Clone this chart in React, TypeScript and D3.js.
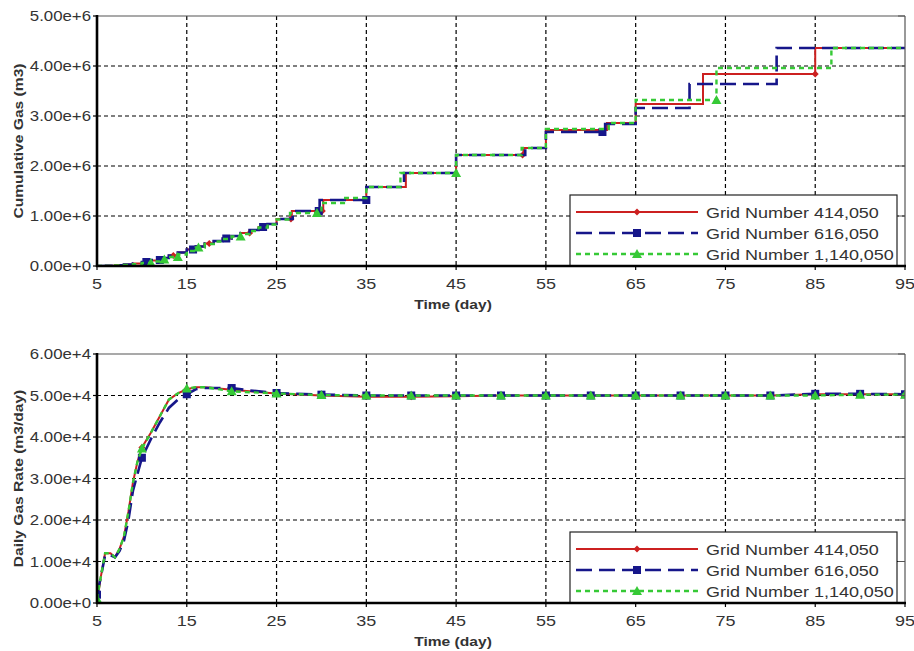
import React, { useEffect, useRef } from 'react';
import * as d3 from 'd3';

// legend labels, one per grid
const seriesNames = ['Grid Number 414,050', 'Grid Number 616,050', 'Grid Number 1,140,050'];
const xTicks = [5, 15, 25, 35, 45, 55, 65, 75, 85, 95];
const cumTicks = [0, 1e6, 2e6, 3e6, 4e6, 5e6];
const rateTicks = [0, 1e4, 2e4, 3e4, 4e4, 5e4, 6e4];

// cumulative gas, [day, m3], drawn as steps
const cum414 = [
  [5, 0], [6, 0.005e6], [7, 0.015e6], [8, 0.03e6], [9, 0.05e6], [10, 0.08e6], [11, 0.11e6],
  [12, 0.16e6], [13, 0.21e6], [14, 0.27e6], [15, 0.33e6], [16, 0.39e6], [17, 0.45e6],
  [18, 0.5e6], [19, 0.55e6], [20, 0.6e6], [21, 0.66e6], [22, 0.72e6], [23, 0.78e6],
  [24, 0.84e6], [25, 0.94e6], [26.7, 1.1e6], [30.2, 1.32e6], [35, 1.58e6], [39.4, 1.86e6],
  [45, 2.22e6], [52.5, 2.36e6], [55, 2.72e6], [61.8, 2.86e6], [65, 3.24e6], [72.5, 3.84e6],
  [85, 4.36e6], [95, 4.36e6],
];
const cum616 = [
  [5, 0], [6, 0.005e6], [7, 0.015e6], [8, 0.03e6], [9, 0.05e6], [10, 0.08e6], [11, 0.12e6],
  [12, 0.16e6], [13, 0.21e6], [14, 0.27e6], [15, 0.33e6], [16, 0.39e6], [17, 0.45e6],
  [18, 0.5e6], [19, 0.55e6], [20, 0.6e6], [21, 0.66e6], [22, 0.72e6], [23, 0.78e6],
  [24, 0.84e6], [25, 0.94e6], [26.8, 1.1e6], [29.8, 1.32e6], [35, 1.58e6], [39.2, 1.86e6],
  [45, 2.22e6], [52.7, 2.36e6], [55, 2.68e6], [61.6, 2.84e6], [65, 3.16e6], [71, 3.64e6],
  [80.7, 4.36e6], [95, 4.36e6],
];
const cum1140 = [
  [5, 0], [6, 0.003e6], [7, 0.01e6], [8, 0.02e6], [9, 0.035e6], [10, 0.06e6], [11, 0.09e6],
  [12, 0.13e6], [13, 0.18e6], [14, 0.23e6], [15, 0.3e6], [16, 0.37e6], [17, 0.44e6],
  [18, 0.49e6], [19, 0.54e6], [20, 0.59e6], [21, 0.64e6], [22, 0.7e6], [23, 0.77e6],
  [24, 0.83e6], [25, 0.93e6], [26.5, 1.06e6], [30, 1.26e6], [32.5, 1.36e6], [35, 1.58e6],
  [38.8, 1.86e6], [45, 2.22e6], [52.3, 2.36e6], [55, 2.74e6], [62, 2.86e6], [65, 3.32e6],
  [74, 3.96e6], [86.8, 4.36e6], [95, 4.36e6],
];
// days where the cumulative markers sit
const cumMarks414 = [13.5, 17.5, 22, 26.6, 30.1, 52.4, 85];
const cumMarks616 = [10.5, 12, 15.7, 19.4, 23.5, 29.7, 35, 61.3];
const cumMarks1140 = [11, 12.5, 14, 16.3, 21, 29.5, 45, 74];

// daily gas rate, [day, m3/day]
const rate414 = [
  [5, 0], [5.4, 0.6e4], [5.9, 1.2e4], [6.5, 1.2e4], [7, 1.1e4], [7.5, 1.3e4], [8, 1.6e4],
  [8.5, 2.2e4], [9, 2.9e4], [9.5, 3.4e4], [10, 3.75e4], [11, 4.1e4], [12, 4.5e4], [13, 4.9e4],
  [14, 5.05e4], [15, 5.15e4], [16, 5.2e4], [17, 5.2e4], [18, 5.18e4], [20, 5.14e4],
  [22, 5.1e4], [25, 5.05e4], [30, 5.0e4], [35, 4.97e4], [40, 4.97e4], [45, 4.98e4],
  [50, 5.0e4], [55, 5.0e4], [60, 5.0e4], [65, 5.0e4], [70, 5.0e4], [75, 5.0e4], [80, 5.0e4],
  [85, 5.03e4], [90, 5.03e4], [95, 5.03e4],
];
const rate616 = [
  [5, 0.2e4], [5.4, 0.6e4], [5.9, 1.15e4], [6.5, 1.15e4], [7, 1.1e4], [7.5, 1.25e4],
  [8, 1.5e4], [8.5, 2.0e4], [9, 2.7e4], [9.5, 3.1e4], [10, 3.5e4], [11, 3.95e4], [12, 4.35e4],
  [13, 4.7e4], [14, 4.9e4], [15, 5.03e4], [16, 5.15e4], [17, 5.18e4], [18, 5.18e4],
  [20, 5.18e4], [22, 5.12e4], [25, 5.06e4], [30, 5.02e4], [35, 5.0e4], [40, 5.0e4],
  [45, 5.0e4], [50, 5.0e4], [55, 5.0e4], [60, 5.0e4], [65, 5.0e4], [70, 5.0e4], [75, 5.0e4],
  [80, 5.0e4], [85, 5.04e4], [90, 5.04e4], [95, 5.03e4],
];
const rate1140 = [
  [5, 0.1e4], [5.4, 0.6e4], [5.9, 1.2e4], [6.5, 1.2e4], [7, 1.1e4], [7.5, 1.3e4], [8, 1.6e4],
  [8.5, 2.2e4], [9, 2.9e4], [9.5, 3.4e4], [10, 3.72e4], [11, 4.1e4], [12, 4.5e4], [13, 4.9e4],
  [14, 5.05e4], [15, 5.17e4], [16, 5.2e4], [17, 5.2e4], [18, 5.17e4], [20, 5.1e4],
  [22, 5.08e4], [25, 5.05e4], [30, 5.01e4], [35, 5.0e4], [40, 5.0e4], [45, 5.0e4],
  [50, 5.0e4], [55, 5.0e4], [60, 5.0e4], [65, 5.0e4], [70, 5.0e4], [75, 5.0e4], [80, 5.0e4],
  [85, 5.0e4], [90, 5.02e4], [95, 5.02e4],
];
const rateMarkDays = [5, 10, 15, 20, 25, 30, 35, 40, 45, 50, 55, 60, 65, 70, 75, 80, 85, 90, 95];

const styles = [
  { color: '#cc2020', dash: null, width: 2, marker: 'diamond' },
  { color: '#16168a', dash: '16,7', width: 2.6, marker: 'square' },
  { color: '#36c936', dash: '5,4', width: 2.4, marker: 'triangle' },
];

const FONT = 'Liberation Sans, Arial, sans-serif';
const STRETCH = 1.2;

// value held by a step series just before the given day
const stepBefore = (pts, day) => {
  let v = pts[0][1];
  for (const p of pts) if (p[0] < day) v = p[1];
  return v;
};
const lerpAt = (pts, day) => {
  for (let i = 1; i < pts.length; i++) {
    if (day <= pts[i][0]) {
      const [x0, y0] = pts[i - 1];
      const [x1, y1] = pts[i];
      return y0 + (y1 - y0) * (day - x0) / (x1 - x0);
    }
  }
  return pts[pts.length - 1][1];
};

const text = (g, x, y, str, opts: any = {}) => {
  const rot = opts.rotate ? ` rotate(${opts.rotate})` : '';
  return g.append('text')
    .attr('transform', `translate(${x},${y})${rot} scale(${STRETCH},1)`)
    .attr('text-anchor', opts.anchor || 'middle')
    .attr('font-family', FONT)
    .attr('font-size', opts.size || 14)
    .attr('font-weight', opts.bold ? 'bold' : 'normal')
    .attr('fill', opts.fill || '#333')
    .text(str);
};

const drawMarker = (g, kind, cx, cy, color) => {
  if (kind === 'diamond') {
    g.append('path').attr('d', `M${cx},${cy - 3.5}L${cx + 3.5},${cy}L${cx},${cy + 3.5}L${cx - 3.5},${cy}Z`)
      .attr('fill', color);
  } else if (kind === 'square') {
    g.append('rect').attr('x', cx - 4).attr('y', cy - 4).attr('width', 8).attr('height', 8)
      .attr('fill', color);
  } else {
    g.append('path').attr('d', `M${cx},${cy - 5}L${cx + 5},${cy + 4}L${cx - 5},${cy + 4}Z`)
      .attr('fill', color);
  }
};

const drawPanel = (svg, cfg) => {
  const { top, bottom, left, right, yMax, yTicks, series, marks, curve, yLabel, clipId } = cfg;
  const x = d3.scaleLinear().domain([5, 95]).range([left, right]);
  const y = d3.scaleLinear().domain([0, yMax]).range([bottom, top]);
  const g = svg.append('g');

  // grid
  g.selectAll('.vgrid').data(xTicks.slice(1, -1)).enter().append('line')
    .attr('x1', d => x(d)).attr('x2', d => x(d)).attr('y1', top).attr('y2', bottom)
    .attr('stroke', '#000').attr('stroke-width', 1.2).attr('stroke-dasharray', '4,3');
  g.selectAll('.hgrid').data(yTicks.slice(1, -1)).enter().append('line')
    .attr('x1', left).attr('x2', right).attr('y1', d => y(d)).attr('y2', d => y(d))
    .attr('stroke', '#000').attr('stroke-width', 1.2).attr('stroke-dasharray', '4,3');

  svg.append('defs').append('clipPath').attr('id', clipId)
    .append('rect').attr('x', left).attr('y', top - 6).attr('width', right - left).attr('height', bottom - top + 6);

  const line = d3.line().curve(curve).x(d => x(d[0])).y(d => y(d[1]));
  const plot = g.append('g').attr('clip-path', `url(#${clipId})`);
  series.forEach((pts, i) => {
    const s = styles[i];
    plot.append('path').datum(pts)
      .attr('fill', 'none').attr('stroke', s.color).attr('stroke-width', s.width)
      .attr('stroke-dasharray', s.dash).attr('d', line);
    marks[i].forEach(day => {
      const v = curve === d3.curveStepAfter ? stepBefore(pts, day) : lerpAt(pts, day);
      drawMarker(plot, s.marker, x(day), y(v), s.color);
    });
  });

  // legend
  const lx = right - 335, lw = 327, lh = 71, ly = bottom - lh;
  g.append('rect').attr('x', lx).attr('y', ly).attr('width', lw).attr('height', lh)
    .attr('fill', '#fff').attr('stroke', '#222').attr('stroke-width', 1.2);
  seriesNames.forEach((name, i) => {
    const s = styles[i];
    const ry = ly + 17 + i * 21;
    g.append('line').attr('x1', lx + 6).attr('x2', lx + 128).attr('y1', ry).attr('y2', ry)
      .attr('stroke', s.color).attr('stroke-width', s.width).attr('stroke-dasharray', s.dash);
    drawMarker(g, s.marker, lx + 67, ry, s.color);
    text(g, lx + 136, ry + 5.5, name, { anchor: 'start', size: 15 });
  });

  // frame
  g.append('line').attr('x1', left).attr('x2', right).attr('y1', top).attr('y2', top)
    .attr('stroke', '#555').attr('stroke-width', 1.2);
  g.append('line').attr('x1', right).attr('x2', right).attr('y1', top).attr('y2', bottom)
    .attr('stroke', '#555').attr('stroke-width', 1.2);
  yTicks.forEach(t => {
    g.append('line').attr('x1', right - 7).attr('x2', right).attr('y1', y(t)).attr('y2', y(t))
      .attr('stroke', '#555').attr('stroke-width', 1);
  });
  g.append('line').attr('x1', left).attr('x2', left).attr('y1', top - 1).attr('y2', bottom + 1)
    .attr('stroke', '#000').attr('stroke-width', 2.6);
  g.append('line').attr('x1', left - 1).attr('x2', right + 1).attr('y1', bottom).attr('y2', bottom)
    .attr('stroke', '#000').attr('stroke-width', 2.6);

  // y axis ticks and labels
  yTicks.forEach(t => {
    g.append('line').attr('x1', left - 4).attr('x2', left).attr('y1', y(t)).attr('y2', y(t))
      .attr('stroke', '#000').attr('stroke-width', 1.2);
    text(g, left - 6, y(t) + 5, t.toExponential(2), { anchor: 'end', size: 14 });
  });
  // x axis ticks and labels
  xTicks.forEach(t => {
    g.append('line').attr('x1', x(t)).attr('x2', x(t)).attr('y1', bottom).attr('y2', bottom + 4)
      .attr('stroke', '#000').attr('stroke-width', 1.2);
    text(g, x(t), bottom + 23, String(t), { size: 15 });
  });

  text(g, 453, bottom + 43, 'Time (day)', { bold: true, size: 13 });
  text(g, 23, (top + bottom) / 2, yLabel, { bold: true, size: 13, rotate: -90 });
};

const App = () => {
  const svgRef = useRef(null);

  useEffect(() => {
    const svg = d3.select(svgRef.current);
    svg.selectAll('*').remove();
    svg.append('rect').attr('width', 914).attr('height', 651).attr('fill', '#fff');

    drawPanel(svg, {
      top: 16, bottom: 266, left: 97, right: 905,
      yMax: 5e6, yTicks: cumTicks,
      series: [cum414, cum616, cum1140],
      marks: [cumMarks414, cumMarks616, cumMarks1140],
      curve: d3.curveStepAfter,
      yLabel: 'Cumulative Gas (m3)',
      clipId: 'clipTop',
    });
    drawPanel(svg, {
      top: 354, bottom: 603, left: 97, right: 905,
      yMax: 6e4, yTicks: rateTicks,
      series: [rate414, rate616, rate1140],
      marks: [rateMarkDays, rateMarkDays, rateMarkDays],
      curve: d3.curveLinear,
      yLabel: 'Daily Gas Rate (m3/day)',
      clipId: 'clipBottom',
    });
  }, []);

  return (
    <svg ref={svgRef} width="914" height="651"
      style={{ position: 'absolute', left: 0, top: 0, display: 'block' }}></svg>
  );
};

export default App;
